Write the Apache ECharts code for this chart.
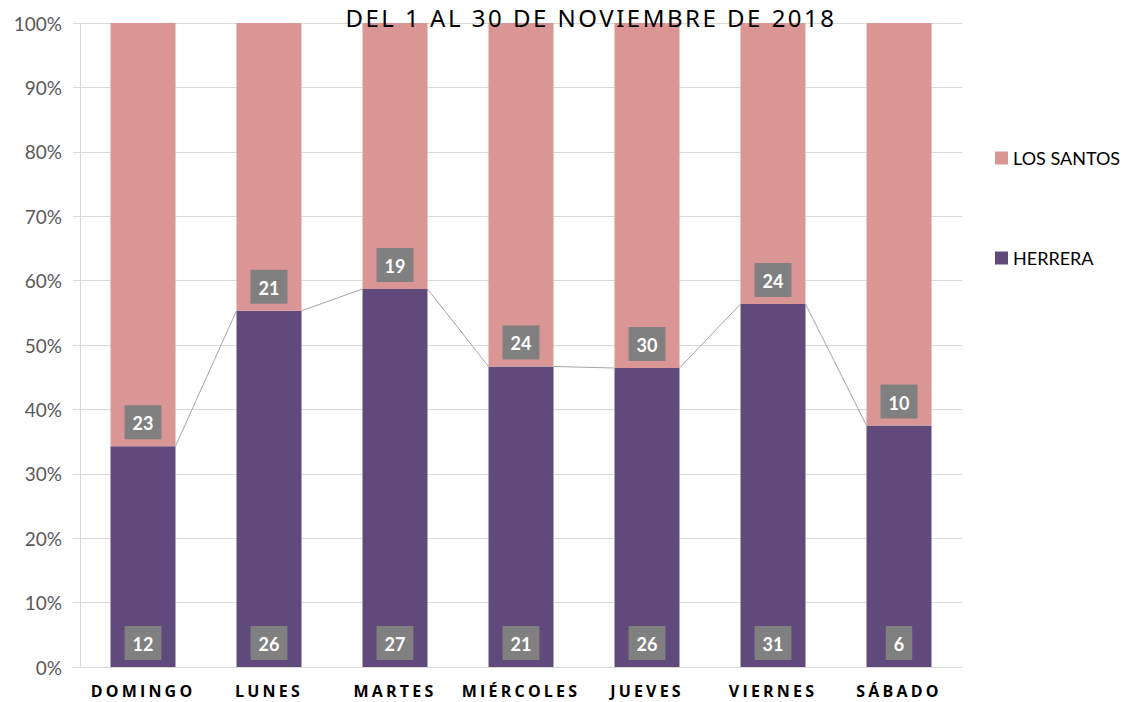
<!DOCTYPE html>
<html>
<head>
<meta charset="utf-8">
<script src="https://cdn.jsdelivr.net/npm/echarts@6/dist/echarts.min.js"></script>
<style>
  html, body { margin: 0; padding: 0; background: #fff; }
  #chart { width: 1126px; height: 702px; }
  /* spaced capitals for the title and the day names */
  #chart text[style*="Noto Sans"] { letter-spacing: 2.5px; }
  #chart text[style*="Open Sans"] { letter-spacing: 3.2px; }
</style>
</head>
<body>
<div id="chart"></div>
<script>
// data
const days = ['DOMINGO', 'LUNES', 'MARTES', 'MIÉRCOLES', 'JUEVES', 'VIERNES', 'SÁBADO'];
const herrera = [12, 26, 27, 21, 26, 31, 6];
const losSantos = [23, 21, 19, 24, 30, 24, 10];
const yTicks = [0, 10, 20, 30, 40, 50, 60, 70, 80, 90, 100];

// 100% stack: shares per day
const herreraPct = herrera.map((v, i) => v / (v + losSantos[i]) * 100);
const santosPct = losSantos.map((v, i) => v / (herrera[i] + v) * 100);

const BAR_W = 65;
const labelBox = {
  show: true,
  color: '#fff',
  fontWeight: 'bold',
  fontSize: 18,
  fontFamily: 'Lato',
  backgroundColor: '#808080',
  padding: [9, 8, 7, 8],
  position: 'insideBottom'
};

const chart = echarts.init(document.getElementById('chart'), null, { renderer: 'svg' });
chart.setOption({
  animation: false,
  title: {
    text: 'DEL 1 AL 30 DE NOVIEMBRE DE 2018',
    left: 586,
    top: 0,
    textAlign: 'center',
    textStyle: { fontSize: 24, fontWeight: 'normal', color: '#000', fontFamily: 'Noto Sans' }
  },
  legend: {
    orient: 'vertical',
    left: 995,
    top: 149,
    padding: 0,
    itemGap: 82,
    itemWidth: 13,
    itemHeight: 13,
    icon: 'rect',
    data: ['LOS SANTOS', 'HERRERA'],
    textStyle: { fontSize: 18, color: '#000', fontFamily: 'Lato' }
  },
  grid: { left: 80, right: 164, top: 23, bottom: 35 },
  xAxis: {
    type: 'category',
    data: days,
    axisLine: { lineStyle: { color: '#d9d9d9' } },
    axisTick: { show: false },
    axisLabel: {
      color: '#000', fontWeight: 'bold', fontSize: 16, fontFamily: 'Open Sans',
      margin: 16, interval: 0
    }
  },
  yAxis: {
    type: 'value',
    min: 0,
    max: 100,
    interval: 10,
    axisLine: { show: true, lineStyle: { color: '#d9d9d9' } },
    axisTick: { show: true, length: 7, lineStyle: { color: '#d9d9d9' } },
    axisLabel: {
      color: '#595959', fontSize: 19, fontFamily: 'Lato', margin: 18,
      formatter: v => yTicks.includes(v) ? v + '%' : ''
    },
    splitLine: { lineStyle: { color: '#d9d9d9' } }
  },
  series: [
    {
      name: 'HERRERA',
      type: 'bar',
      stack: 'total',
      barWidth: BAR_W,
      data: herreraPct,
      itemStyle: { color: '#604a7b' },
      label: Object.assign({}, labelBox, { distance: 7, formatter: p => herrera[p.dataIndex] })
    },
    {
      name: 'LOS SANTOS',
      type: 'bar',
      stack: 'total',
      barWidth: BAR_W,
      data: santosPct,
      itemStyle: { color: '#da9694' },
      label: Object.assign({}, labelBox, { distance: 7, formatter: p => losSantos[p.dataIndex] })
    },
    {
      // series lines joining the tops of the HERRERA bars
      type: 'custom',
      z: 5,
      silent: true,
      data: herreraPct.map((v, i) => [i, v]),
      renderItem: function (params, api) {
        const i = api.value(0);
        if (i >= herreraPct.length - 1) return null;
        const a = api.coord([i, herreraPct[i]]);
        const b = api.coord([i + 1, herreraPct[i + 1]]);
        return {
          type: 'line',
          shape: { x1: a[0] + BAR_W / 2, y1: a[1], x2: b[0] - BAR_W / 2, y2: b[1] },
          style: { stroke: '#a5a5a5', lineWidth: 1 }
        };
      }
    }
  ]
});
</script>
</body>
</html>
